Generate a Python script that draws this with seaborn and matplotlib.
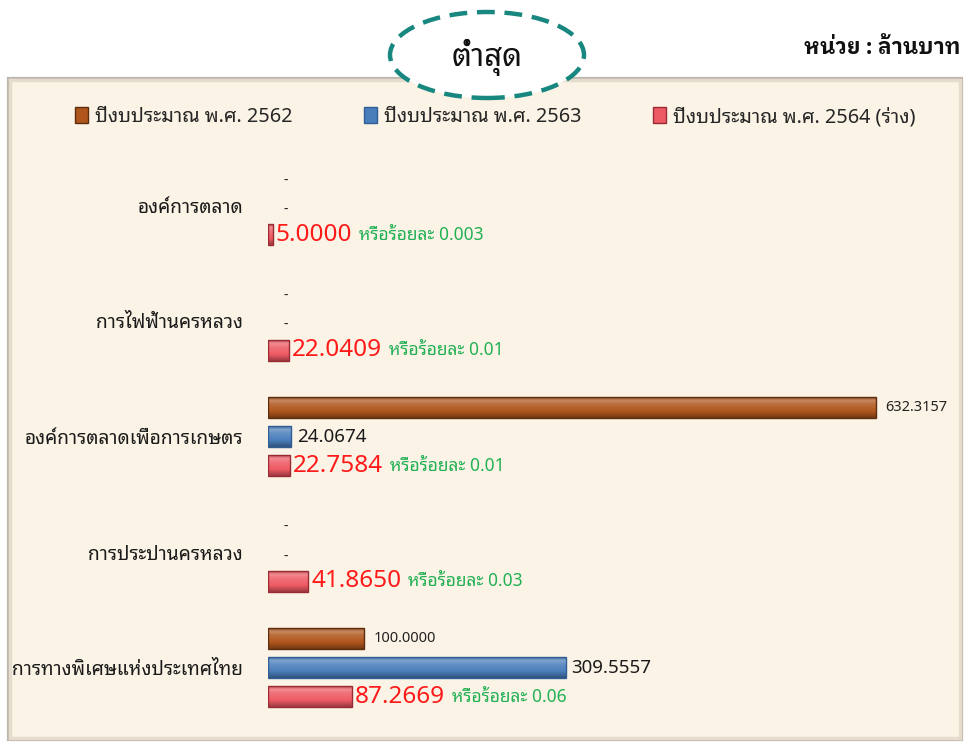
import numpy as np
import pandas as pd
import matplotlib
matplotlib.use("Agg")
import matplotlib.pyplot as plt
import seaborn as sns
from matplotlib.patches import Rectangle, Ellipse, Patch
from matplotlib.colors import LinearSegmentedColormap, to_rgb

# ---------------- data ----------------
categories = ["องค์การตลาด", "การไฟฟ้านครหลวง", "องค์การตลาดเพื่อการเกษตร",
              "การประปานครหลวง", "การทางพิเศษแห่งประเทศไทย"]
years = ["ปีงบประมาณ พ.ศ. 2562", "ปีงบประมาณ พ.ศ. 2563", "ปีงบประมาณ พ.ศ. 2564 (ร่าง)"]
budget_2562 = [np.nan, np.nan, 632.3157, np.nan, 100.0000]
budget_2563 = [np.nan, np.nan, 24.0674, np.nan, 309.5557]
budget_2564 = [5.0000, 22.0409, 22.7584, 41.8650, 87.2669]
percent_2564 = ["0.003", "0.01", "0.01", "0.03", "0.06"]
title_text = "ต่ำสุด"
unit_text = "หน่วย : ล้านบาท"
pct_prefix = "หรือร้อยละ"

series = [budget_2562, budget_2563, budget_2564]
base_colors = ["#B0561C", "#4A7EBB", "#EE5A64"]
edge_colors = ["#5C2C0C", "#2F5E95", "#9A2A34"]

df = pd.DataFrame({
    "category": categories * 3,
    "year": [y for y in years for _ in categories],
    "value": budget_2562 + budget_2563 + budget_2564,
})

THAI = ["Noto Sans Thai Looped", "DejaVu Sans"]
THAI_BOLD = ["IBM Plex Sans Thai Looped", "DejaVu Sans"]

sns.set_theme(style="white")
plt.rcParams["font.family"] = THAI

W, H = 965, 742
fig = plt.figure(figsize=(W / 100, H / 100), dpi=100)
fig.patch.set_facecolor("white")

# panel background
panel = Rectangle((8 / W, 2 / H), (962 - 8) / W, (740 - 78) / H,
                  transform=fig.transFigure, facecolor="#FBF4E6",
                  edgecolor="#BEB7AF", linewidth=1.6, zorder=-5)
fig.add_artist(panel)
shadow = Rectangle((10 / W, 4 / H), (960 - 10) / W, (738 - 80) / H,
                   transform=fig.transFigure, facecolor="none",
                   edgecolor="#E6DCCD", linewidth=2.5, zorder=-4)
fig.add_artist(shadow)

# axes
ax_left = 268 / W
ax = fig.add_axes([ax_left, 2 / H, 1 - ax_left, (740 - 78) / H])
ax.set_facecolor("none")

width = 0.757
sns.barplot(data=df, x="value", y="category", hue="year", order=categories,
            hue_order=years, orient="h", palette=base_colors, width=width,
            gap=0.28, errorbar=None, legend=False, ax=ax,
            linewidth=1.0, edgecolor="#555555", saturation=1)

px_per_unit = 0.957
xmax = (962 - 268) / px_per_unit
top_px, bot_px = 80, 740
c0, step = 207, 115.25
ylims = (4 + (bot_px - (c0 + 4 * step)) / step, -(c0 - top_px) / step)

# gradient shading for bars
def shade(c, f):
    c = np.array(to_rgb(c))
    return tuple(c + (1 - c) * f) if f > 0 else tuple(c * (1 + f))

for p in list(ax.patches):
    fc = p.get_facecolor()[:3]
    idx = int(np.argmin([np.sum((np.array(fc) - np.array(to_rgb(b))) ** 2) for b in base_colors]))
    p.set_edgecolor(edge_colors[idx])
    b = base_colors[idx]
    cmap = LinearSegmentedColormap.from_list(
        "g", [(0.0, shade(b, -0.25)), (0.2, shade(b, 0.3)), (0.35, shade(b, 0.15)),
              (0.7, to_rgb(b)), (1.0, shade(b, -0.35))])
    x0, y0, w, h = p.get_x(), p.get_y(), p.get_width(), p.get_height()
    if not np.isfinite(w) or w <= 0:
        continue
    grad = np.linspace(0, 1, 64).reshape(-1, 1)
    im = ax.imshow(grad, cmap=cmap, aspect="auto", extent=(x0, x0 + w, y0 + h, y0),
                   origin="upper", zorder=p.get_zorder() - 0.1, interpolation="bilinear")
    im.set_clip_path(p)
    p.set_facecolor("none")
    p.set_zorder(p.get_zorder() + 0.2)

ax.set_xlim(0, xmax)
ax.set_ylim(*ylims)

# axis styling
for s in ax.spines.values():
    s.set_visible(False)
ax.set_xticks([])
ax.set_xlabel("")
ax.set_ylabel("")
ax.tick_params(axis="y", length=0, pad=18)
for t in ax.get_yticklabels():
    t.set_fontsize(13.8)
    t.set_color("#1a1a1a")
    t.set_family(THAI)

# value labels
slot = width / 3
offsets = [-slot, 0, slot]
for j, vals in enumerate(series):
    for i, v in enumerate(vals):
        y = i + offsets[j]
        if not np.isfinite(v):
            ax.annotate("-", xy=(0, y), xytext=(11, -3.5), textcoords="offset points",
                        ha="left", va="center", fontsize=10, color="#222222", family=THAI)
            continue
        if j == 0:
            ax.annotate(f"{v:.4f}", xy=(v, y), xytext=(7, 0), textcoords="offset points",
                        ha="left", va="center", fontsize=10.5, color="#222222", family=THAI)
        elif j == 1:
            ax.annotate(f"{v:.4f}", xy=(v, y), xytext=(4, 0), textcoords="offset points",
                        ha="left", va="center", fontsize=13.5, color="#1a1a1a", family=THAI)
        else:
            t = ax.annotate(f"{v:.4f}", xy=(v, y), xytext=(2, 0), textcoords="offset points",
                            ha="left", va="center", fontsize=17.5, color="#FF1A1A", family=THAI)
            ax.annotate(f"{pct_prefix} {percent_2564[i]}", xy=(1, 0.5), xycoords=t,
                        xytext=(5, 0), textcoords="offset points", ha="left", va="center",
                        fontsize=12.5, color="#22B055", family=THAI)

# legend
handles = [Patch(facecolor=base_colors[k], edgecolor=edge_colors[k], linewidth=1.0)
           for k in range(3)]
fig.legend(handles, years, loc="center", bbox_to_anchor=(0.513, 1 - 117 / H),
           ncol=3, frameon=False, handlelength=0.65, handleheight=0.85,
           handletextpad=0.35, columnspacing=3.6, prop={"family": THAI, "size": 14.3})

# dashed ellipse with title
ell = Ellipse((487 / W, 1 - 55 / H), 194 / W, 86 / H, transform=fig.transFigure,
              facecolor="white", edgecolor="#17877F", linewidth=3.2,
              linestyle=(0, (4, 2.2)), zorder=5)
fig.add_artist(ell)
fig.text(487 / W, 1 - 57 / H, title_text, ha="center", va="center", fontsize=22.5,
         color="#111111", family=THAI, zorder=6)

fig.text(960 / W, 1 - 48 / H, unit_text, ha="right", va="center", fontsize=15.5,
         fontweight="bold", color="#111111", family=THAI_BOLD)

fig.savefig("out.png", dpi=100)
